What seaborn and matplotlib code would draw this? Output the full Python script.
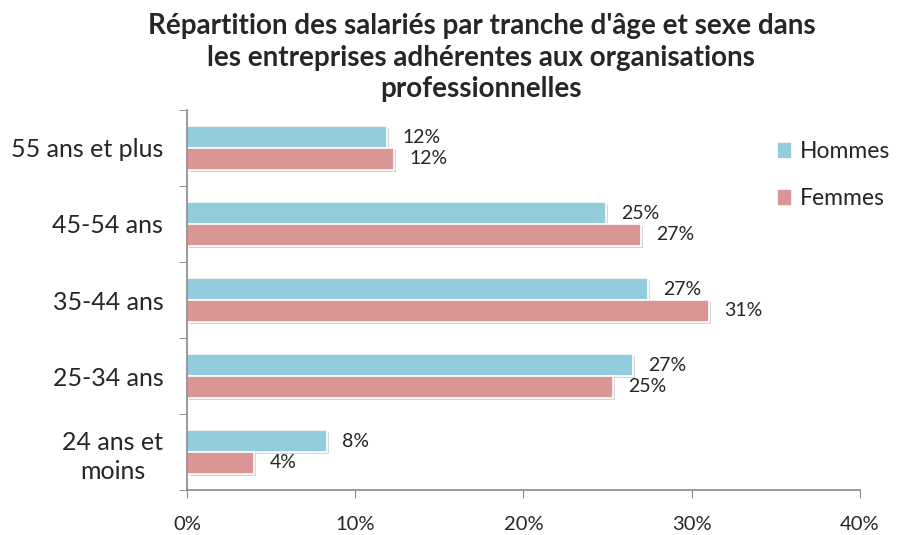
import numpy as np
import pandas as pd
import matplotlib.pyplot as plt
import matplotlib.patheffects as pe
from matplotlib.ticker import FixedLocator, PercentFormatter
import seaborn as sns

# data
tranches = ['55 ans et plus', '45-54 ans', '35-44 ans', '25-34 ans', '24 ans et\nmoins']
hommes = [11.9, 24.9, 27.4, 26.5, 8.3]
femmes = [12.3, 27.0, 31.0, 25.3, 4.0]
labels_h = ['12%', '25%', '27%', '27%', '8%']
labels_f = ['12%', '27%', '31%', '25%', '4%']
series = ['Hommes', 'Femmes']
colors = ['#93CDDD', '#D99694']

df = pd.DataFrame({
    'tranche': tranches * 2,
    'valeur': hommes + femmes,
    'sexe': ['Hommes'] * len(tranches) + ['Femmes'] * len(tranches),
})

sns.set_style('white')
plt.rcParams['font.family'] = ['Lato', 'DejaVu Sans']

fig = plt.figure(figsize=(8.98, 5.35), dpi=100)
ax = fig.add_axes([0.2082, 0.0841, 0.7494, 0.7103])

sns.barplot(data=df, x='valeur', y='tranche', hue='sexe', hue_order=series,
            palette=colors, saturation=1, orient='h', width=0.57, gap=0,
            edgecolor='white', linewidth=1.2, ax=ax, legend=False)

shadow = [pe.SimplePatchShadow(offset=(1.5, -1.5), shadow_rgbFace='#999999', alpha=0.4),
          pe.Normal()]
for cont in ax.containers:
    for p in cont:
        p.set_path_effects(shadow)

ax.bar_label(ax.containers[0], labels=labels_h, padding=11, fontsize=14)
ax.bar_label(ax.containers[1], labels=labels_f, padding=11, fontsize=14)

ax.set_xlim(0, 40)
ax.set_ylim(4.5, -0.5)
ax.xaxis.set_major_locator(FixedLocator([0, 10, 20, 30, 40]))
ax.xaxis.set_major_formatter(PercentFormatter(decimals=0))
ax.set_xlabel('')
ax.set_ylabel('')

ax.tick_params(axis='y', which='major', length=0, pad=17, labelsize=18)
ax.yaxis.set_minor_locator(FixedLocator(np.arange(-0.5, 5.0, 1.0)))
ax.tick_params(axis='y', which='minor', length=6, color='#888888', direction='out', left=True)
ax.tick_params(axis='x', length=6, color='#888888', direction='out', bottom=True,
               pad=13, labelsize=14.5)
for lbl in ax.get_yticklabels():
    lbl.set_multialignment('center')
    lbl.set_linespacing(1.3)

sns.despine(ax=ax)
for s in ['left', 'bottom']:
    ax.spines[s].set_color('#888888')
    ax.spines[s].set_linewidth(1.2)

handles = [plt.Rectangle((0, 0), 1, 1, color=c) for c in colors]
fig.legend(handles, series, loc='upper left', bbox_to_anchor=(0.843, 0.775),
           frameon=False, fontsize=16.5, handlelength=0.55, handleheight=0.55,
           handletextpad=0.4, labelspacing=1.15)

fig.text(0.536, 0.975, "Répartition des salariés par tranche d'âge et sexe dans\n"
         "les entreprises adhérentes aux organisations\nprofessionnelles",
         ha='center', va='top', fontsize=20, fontweight='bold', linespacing=1.25)

fig.savefig('out.png', dpi=100)
